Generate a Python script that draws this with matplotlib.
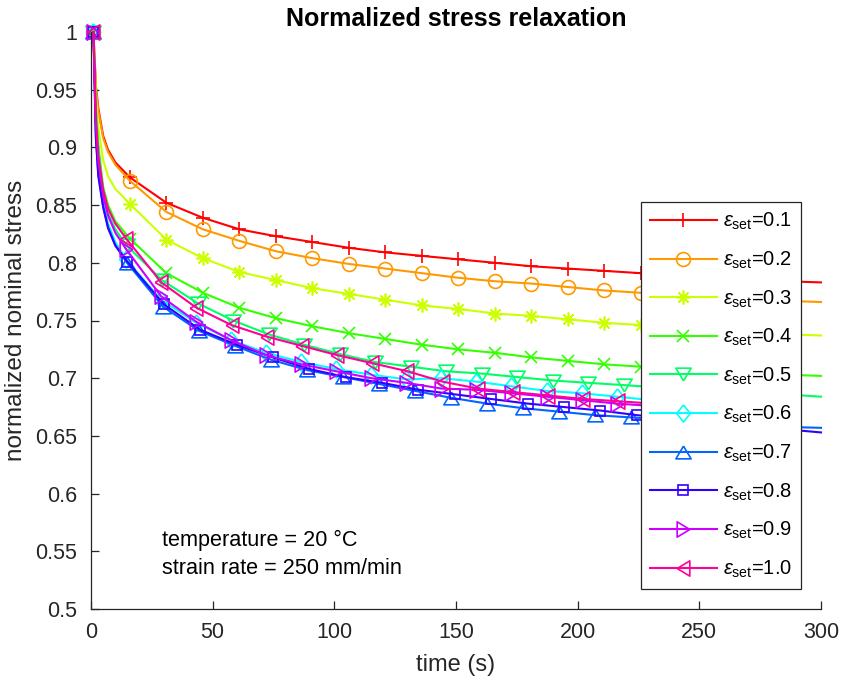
import numpy as np
import matplotlib
matplotlib.use('Agg')
import matplotlib.pyplot as plt

plt.rcParams['font.family'] = ['Liberation Sans', 'DejaVu Sans']
plt.rcParams['mathtext.fontset'] = 'custom'
plt.rcParams['mathtext.rm'] = 'Liberation Sans'
plt.rcParams['mathtext.it'] = 'Liberation Sans:italic'
plt.rcParams['mathtext.sf'] = 'Liberation Sans'

# ---------------- data ----------------
strain_set = ['0.1', '0.2', '0.3', '0.4', '0.5', '0.6', '0.7', '0.8', '0.9', '1.0']
start_time = 1.0
start_value = 1.0
early_times = [2, 3, 5, 7, 10]
marker_step = [15, 15, 15, 15, 14.6, 14.4, 14.8, 14.95, 14.4, 14.45]
marker_offset = [1, 1, 1, 1, 0, 0, 0, 0, 0, 0]
end_time = 300
end_values = [0.783, 0.766, 0.737, 0.702, 0.684, None, 0.657, 0.653, None, None]

early_01 = [0.954, 0.934, 0.910, 0.898, 0.887]
early_02 = [0.952, 0.932, 0.908, 0.896, 0.885]
early_03 = [0.945, 0.917, 0.889, 0.875, 0.864]
early_04 = [0.935, 0.902, 0.866, 0.850, 0.836]
early_05 = [0.932, 0.898, 0.860, 0.843, 0.829]
early_06 = [0.915, 0.882, 0.852, 0.834, 0.818]
early_07 = [0.910, 0.877, 0.849, 0.831, 0.815]
early_08 = [0.908, 0.875, 0.848, 0.830, 0.815]
early_09 = [0.920, 0.888, 0.858, 0.841, 0.826]
early_10 = [0.925, 0.893, 0.863, 0.847, 0.834]

stress_01 = [0.874, 0.852, 0.839, 0.829, 0.823, 0.818, 0.813, 0.809, 0.806, 0.803,
             0.800, 0.797, 0.795, 0.793, 0.791, 0.789, 0.787, 0.786, 0.784]
stress_02 = [0.871, 0.844, 0.829, 0.819, 0.810, 0.804, 0.799, 0.795, 0.791, 0.787,
             0.784, 0.782, 0.779, 0.776, 0.774, 0.772, 0.770, 0.768, 0.767]
stress_03 = [0.851, 0.820, 0.804, 0.792, 0.785, 0.778, 0.773, 0.768, 0.763, 0.760,
             0.756, 0.754, 0.751, 0.748, 0.746, 0.744, 0.742, 0.740, 0.738]
stress_04 = [0.821, 0.791, 0.774, 0.761, 0.752, 0.745, 0.739, 0.734, 0.729, 0.725,
             0.722, 0.718, 0.715, 0.712, 0.710, 0.708, 0.706, 0.705, 0.703]
stress_05 = [0.815, 0.785, 0.765, 0.750, 0.738, 0.729, 0.721, 0.714, 0.710, 0.706,
             0.704, 0.701, 0.698, 0.696, 0.694, 0.692, 0.690, 0.688, 0.687]
stress_06 = [0.803, 0.768, 0.748, 0.733, 0.722, 0.714, 0.708, 0.703, 0.699, 0.700,
             0.697, 0.693, 0.689, 0.687, 0.684, 0.681, 0.678, 0.675, 0.672, 0.670]
stress_07 = [0.800, 0.762, 0.741, 0.728, 0.716, 0.707, 0.701, 0.695, 0.689, 0.683,
             0.678, 0.674, 0.671, 0.668, 0.666, 0.664, 0.662, 0.660, 0.658]
stress_08 = [0.801, 0.764, 0.742, 0.729, 0.718, 0.708, 0.701, 0.696, 0.690, 0.686,
             0.682, 0.678, 0.675, 0.672, 0.668, 0.665, 0.662, 0.659, 0.656]
stress_09 = [0.812, 0.771, 0.749, 0.733, 0.720, 0.712, 0.706, 0.700, 0.696, 0.691,
             0.690, 0.687, 0.684, 0.681, 0.678, 0.676, 0.674, 0.672, 0.670, 0.668]
stress_10 = [0.821, 0.783, 0.761, 0.746, 0.736, 0.728, 0.720, 0.713, 0.706, 0.697,
             0.691, 0.688, 0.685, 0.682, 0.680, 0.678, 0.676, 0.674, 0.672, 0.670]

early_all = [early_01, early_02, early_03, early_04, early_05,
             early_06, early_07, early_08, early_09, early_10]
stress_all = [stress_01, stress_02, stress_03, stress_04, stress_05,
              stress_06, stress_07, stress_08, stress_09, stress_10]

# ---------------- style ----------------
colors = [(1, 0, 0), (1, 0.6, 0), (0.8, 1, 0), (0.2, 1, 0), (0, 1, 0.4),
          (0, 1, 1), (0, 0.4, 1), (0.2, 0, 1), (0.8, 0, 1), (1, 0, 0.6)]

h = 0.83
tri_up = [(0, h), (-1, -h), (1, -h), (0, h)]
tri_down = [(0, -h), (-1, h), (1, h), (0, -h)]
tri_right = [(h, 0), (-h, 1), (-h, -1), (h, 0)]
tri_left = [(-h, 0), (h, 1), (h, -1), (-h, 0)]
diamond = [(0, 1), (0.8, 0), (0, -1), (-0.8, 0), (0, 1)]
markers = ['+', 'o', (8, 2, 0), 'x', tri_down, diamond, tri_up, 's', tri_right, tri_left]
msizes = [10, 10, 10, 8.6, 11, 12.3, 11, 7.7, 11, 11]

axis_col = (0.15, 0.15, 0.15)
F = 15.5

fig = plt.figure(figsize=(8.41, 6.80), dpi=100)
ax = fig.add_axes([91 / 841, 1 - 609 / 680, (821 - 91) / 841, (609 - 32) / 680])

for i in range(10):
    n = len(stress_all[i])
    mk_t = [marker_offset[i] + marker_step[i] * k for k in range(1, n + 1)]
    t = [start_time] + early_times + mk_t
    y = [start_value] + early_all[i] + stress_all[i]
    ne = len(early_times)
    mark_idx = [0] + list(range(1 + ne, 1 + ne + n))
    if end_values[i] is not None:
        t.append(end_time)
        y.append(end_values[i])
    ax.plot(t, y, color=colors[i], lw=1.5, marker=markers[i], ms=msizes[i],
            mfc='none', mec=colors[i], mew=1.2, markevery=mark_idx,
            label=r'$\epsilon_{\mathrm{set}}$=' + strain_set[i], clip_on=False)

ax.set_xlim(0, 300)
ax.set_ylim(0.5, 1.0)
ax.set_xticks(np.arange(0, 301, 50))
ax.set_yticks(np.arange(0.5, 1.001, 0.05))
ax.set_yticklabels(['0.5', '0.55', '0.6', '0.65', '0.7', '0.75', '0.8', '0.85', '0.9', '0.95', '1'])
ax.spines['top'].set_visible(False)
ax.spines['right'].set_visible(False)
for s in ['left', 'bottom']:
    ax.spines[s].set_color(axis_col)
    ax.spines[s].set_linewidth(0.9)
ax.tick_params(direction='in', length=6, width=0.9, colors=axis_col, labelsize=F,
               labelcolor=(0.15, 0.15, 0.15))
ax.tick_params(axis='x', pad=9)
ax.tick_params(axis='y', pad=10)

ax.set_xlabel('time (s)', fontsize=17, color=axis_col, labelpad=8)
ax.set_ylabel('normalized nominal stress', fontsize=17.5, color=axis_col, labelpad=6)
ax.set_title('Normalized stress relaxation', fontsize=18, fontweight='bold', pad=4)

ax.text(29, 0.559, 'temperature = 20 °C', fontsize=15.6, va='center', ha='left')
ax.text(29, 0.535, 'strain rate = 250 mm/min', fontsize=15.6, va='center', ha='left')

leg = ax.legend(loc='upper left', bbox_to_anchor=(641 / 841, 1 - 202 / 680),
                bbox_transform=fig.transFigure, fontsize=14.5, handlelength=3.3,
                handletextpad=0.3, labelspacing=0.86, borderpad=0.45,
                frameon=True, fancybox=False, framealpha=1, borderaxespad=0)
leg.get_frame().set_edgecolor(axis_col)
leg.get_frame().set_linewidth(0.9)
leg.set_zorder(10)

fig.savefig('out.png', dpi=100)
